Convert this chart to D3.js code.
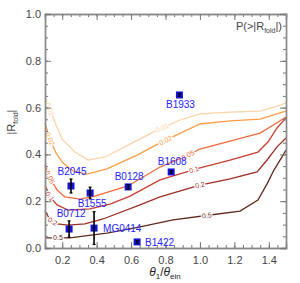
<!DOCTYPE html>
<html>
<head>
<meta charset="utf-8" />
<title>R_fold</title>
<script src="https://d3js.org/d3.v7.min.js"></script>
<style>
body{margin:0;background:#fff;}
svg{display:block;font-family:"Liberation Sans",Arial,sans-serif;}
</style>
</head>
<body>
<svg id="chart" width="300" height="283"></svg>
<script>
// contour levels of P(>|R_fold|)
var levels = ["0.01", "0.02", "0.05", "0.1", "0.2", "0.5"];
var levelColors = ["#fdd3a8", "#fd9d45", "#ee6a3c", "#c8402f", "#9c2e24", "#5e2a1c"];
// each contour as x (theta1/theta_ein) and y (|R_fold|) values
var contourX = [
  [0.10, 0.13, 0.164, 0.199, 0.274, 0.35, 0.449, 0.594, 0.751, 0.884, 1.0, 1.175, 1.349, 1.454, 1.5],
  [0.10, 0.13, 0.164, 0.205, 0.263, 0.344, 0.46, 0.635, 0.768, 1.0, 1.175, 1.349, 1.465, 1.5],
  [0.10, 0.13, 0.17, 0.216, 0.303, 0.39, 0.582, 0.768, 0.931, 1.0, 1.175, 1.349, 1.436, 1.5],
  [0.10, 0.13, 0.17, 0.234, 0.361, 0.478, 0.594, 0.768, 1.0, 1.175, 1.337, 1.395, 1.448, 1.5],
  [0.10, 0.13, 0.17, 0.234, 0.332, 0.437, 0.652, 0.768, 1.0, 1.175, 1.332, 1.39, 1.448, 1.5],
  [0.10, 0.245, 0.46, 0.652, 0.844, 1.059, 1.233, 1.337, 1.39, 1.43, 1.483, 1.5]
];
var contourY = [
  [0.645, 0.59, 0.526, 0.466, 0.41, 0.376, 0.389, 0.444, 0.504, 0.547, 0.573, 0.581, 0.585, 0.607, 0.62],
  [0.534, 0.462, 0.406, 0.363, 0.329, 0.316, 0.338, 0.397, 0.449, 0.530, 0.543, 0.551, 0.577, 0.585],
  [0.355, 0.299, 0.248, 0.218, 0.209, 0.222, 0.265, 0.346, 0.397, 0.423, 0.457, 0.491, 0.530, 0.560],
  [0.269, 0.218, 0.184, 0.162, 0.167, 0.188, 0.222, 0.291, 0.342, 0.376, 0.410, 0.453, 0.513, 0.556],
  [0.158, 0.120, 0.103, 0.098, 0.103, 0.124, 0.184, 0.218, 0.269, 0.295, 0.325, 0.376, 0.432, 0.470],
  [0.043, 0.043, 0.064, 0.090, 0.120, 0.141, 0.158, 0.205, 0.274, 0.333, 0.397, 0.419]
];
// where the level labels sit along each line (x value)
var labelLeftX = [0.128, 0.128, 0.128, 0.128, 0.145, 0.175];
var labelMidX = [0.78, 0.80, 0.93, 0.965, 1.0, 1.04];

// lenses
var lensNames = ["B1933", "B2045", "B1555", "B0128", "B0712", "MG0414", "B1422", "B1608"];
var lensX = [0.881, 0.251, 0.362, 0.583, 0.240, 0.385, 0.635, 0.833];
var lensY = [0.654, 0.265, 0.235, 0.261, 0.081, 0.085, 0.026, 0.325];
var lensErr = [0.006, 0.03, 0.025, 0.01, 0.035, 0.07, 0.005, 0.005];

var xTicks = [0.2, 0.4, 0.6, 0.8, 1.0, 1.2, 1.4];
var yTicks = [0.0, 0.2, 0.4, 0.6, 0.8, 1.0];

var W = 300, H = 283;
var m = {left:45, right:14, top:14, bottom:35};
var svg = d3.select("#chart");
var x = d3.scaleLinear().domain([0.1, 1.5]).range([m.left, W - m.right]);
var y = d3.scaleLinear().domain([0, 1]).range([H - m.bottom, m.top]);

// label offsets for lens names: dx, dy, anchor
var lensLabelPos = {
  "B1933":[1, 13, "middle"], "B2045":[1, -11, "middle"], "B1555":[2, 14, "middle"],
  "B0128":[1, -7, "middle"], "B0712":[2, -12, "middle"], "MG0414":[9, 4, "start"],
  "B1422":[8, 4, "start"], "B1608":[1, -7, "middle"]
};

function interpY(xs, ys, v){
  for(var i=0;i<xs.length-1;i++){
    if(v>=xs[i] && v<=xs[i+1]){
      var t = (v-xs[i])/(xs[i+1]-xs[i]);
      return ys[i]+t*(ys[i+1]-ys[i]);
    }
  }
  return ys[ys.length-1];
}

function draw(){
  var line = d3.line().x(function(d){return x(d[0]);}).y(function(d){return y(d[1]);});
  var gc = svg.append("g").attr("class","contours");
  for(var i=0;i<levels.length;i++){
    var pts = d3.zip(contourX[i], contourY[i]);
    gc.append("path").attr("d", line(pts))
      .attr("fill","none").attr("stroke",levelColors[i]).attr("stroke-width",1.3);
    // labels on the line
    [labelLeftX[i], labelMidX[i]].forEach(function(lx){
      var ly = interpY(contourX[i], contourY[i], lx);
      var ly2 = interpY(contourX[i], contourY[i], lx+0.01);
      var ang = Math.atan2(y(ly2)-y(ly), x(lx+0.01)-x(lx))*180/Math.PI;
      gc.append("text").text(levels[i])
        .attr("transform","translate("+x(lx)+","+y(ly)+") rotate("+ang+")")
        .attr("dy","0.35em").attr("text-anchor","middle")
        .style("font-size","7px").style("fill",levelColors[i])
        .style("stroke","#fff").style("stroke-width",2.5).style("paint-order","stroke");
    });
  }

  // axes with inward ticks on all sides
  function fmt(d){return d3.format(".1f")(d);}
  var minorX = d3.range(0.1, 1.5001, 0.05), minorY = d3.range(0, 1.0001, 0.05);
  var ga = svg.append("g").attr("class","axes");
  ga.append("g").attr("transform","translate(0,"+y(0)+")")
    .call(d3.axisBottom(x).tickValues(minorX).tickSize(-3).tickFormat(""));
  ga.append("g").attr("transform","translate(0,"+y(0)+")")
    .call(d3.axisBottom(x).tickValues(xTicks).tickSize(-6).tickPadding(8).tickFormat(fmt));
  ga.append("g").attr("transform","translate(0,"+y(1)+")")
    .call(d3.axisTop(x).tickValues(minorX).tickSize(-3).tickFormat(""));
  ga.append("g").attr("transform","translate(0,"+y(1)+")")
    .call(d3.axisTop(x).tickValues(xTicks).tickSize(-6).tickFormat(""));
  ga.append("g").attr("transform","translate("+x(0.1)+",0)")
    .call(d3.axisLeft(y).tickValues(minorY).tickSize(-3).tickFormat(""));
  ga.append("g").attr("transform","translate("+x(0.1)+",0)")
    .call(d3.axisLeft(y).tickValues(yTicks).tickSize(-6).tickPadding(4).tickFormat(fmt));
  ga.append("g").attr("transform","translate("+x(1.5)+",0)")
    .call(d3.axisRight(y).tickValues(minorY).tickSize(-3).tickFormat(""));
  ga.append("g").attr("transform","translate("+x(1.5)+",0)")
    .call(d3.axisRight(y).tickValues(yTicks).tickSize(-6).tickFormat(""));
  ga.selectAll(".domain").attr("stroke","#8a8a8a").attr("stroke-width",1.4);
  ga.selectAll(".tick line").attr("stroke","#777");
  ga.selectAll(".tick text").style("font-size","11px").style("fill","#444");

  // lenses
  var gp = svg.append("g").attr("class","lenses");
  for(var k=0;k<lensNames.length;k++){
    var px = x(lensX[k]), py = y(lensY[k]);
    gp.append("rect").attr("x",px-3.5).attr("y",py-3.5).attr("width",7).attr("height",7)
      .attr("fill","#1414d8");
    gp.append("line").attr("x1",px).attr("x2",px)
      .attr("y1",y(lensY[k]-lensErr[k])).attr("y2",y(lensY[k]+lensErr[k]))
      .attr("stroke","#000").attr("stroke-width",1.6);
    [lensY[k]-lensErr[k], lensY[k]+lensErr[k]].forEach(function(v){
      gp.append("line").attr("x1",px-1.5).attr("x2",px+1.5).attr("y1",y(v)).attr("y2",y(v))
        .attr("stroke","#000").attr("stroke-width",1.2);
    });
    var lp = lensLabelPos[lensNames[k]];
    gp.append("text").text(lensNames[k])
      .attr("x",px+lp[0]).attr("y",py+lp[1]).attr("text-anchor",lp[2])
      .style("font-size","10px").style("fill","#2424ff");
  }

  // titles
  var xt = svg.append("text").attr("x",165).attr("y",276).attr("text-anchor","middle")
    .style("font-size","12px").style("fill","#222");
  xt.append("tspan").text("θ").style("font-style","italic");
  xt.append("tspan").text("1").attr("dy",3).style("font-size","8px");
  xt.append("tspan").text("/").attr("dy",-3);
  xt.append("tspan").text("θ").style("font-style","italic");
  xt.append("tspan").text("ein").attr("dy",3).style("font-size","8px");

  var yt = svg.append("text").attr("transform","translate(15,122) rotate(-90)")
    .attr("text-anchor","middle").style("font-size","11px").style("fill","#444");
  yt.append("tspan").text("|R");
  yt.append("tspan").text("fold").attr("dy",3).style("font-size","7px");
  yt.append("tspan").text("|").attr("dy",-3);

  var pt = svg.append("text").attr("x",282).attr("y",30).attr("text-anchor","end")
    .style("font-size","11px").style("fill","#444");
  pt.append("tspan").text("P(>|R");
  pt.append("tspan").text("fold").attr("dy",3).style("font-size","7px");
  pt.append("tspan").text("|)").attr("dy",-3);
}
draw();
</script>
</body>
</html>
